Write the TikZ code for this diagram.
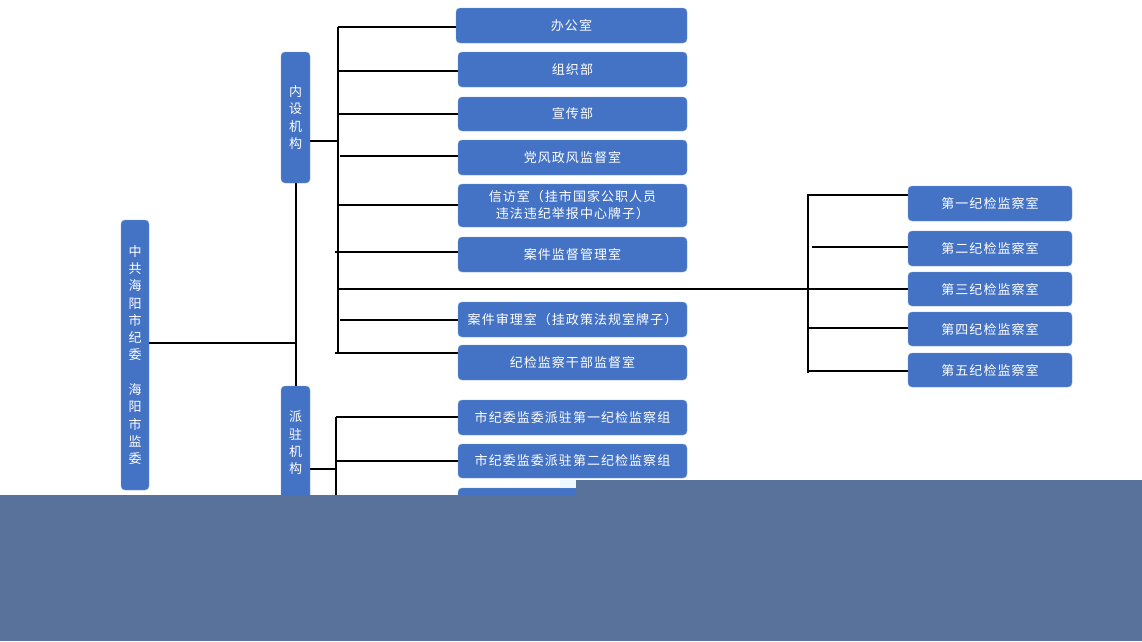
\documentclass[tikz,border=0pt]{standalone}
\usepackage{fontspec}
\newfontfamily\cjk{Noto Sans CJK SC}[LetterSpace=8]
\newfontfamily\cjkv{Noto Sans CJK SC}
\definecolor{boxblue}{RGB}{68,114,196}
\definecolor{boxedge}{RGB}{120,155,215}
\definecolor{slate}{RGB}{88,114,156}
\begin{document}
\begin{tikzpicture}[x=1pt,y=-1pt,
	box/.style={draw=boxedge, fill=boxblue, rounded corners=4pt, text=white, inner sep=0pt, align=center, font=\cjk\fontsize{13}{17}\selectfont},
	vbox/.style={draw=boxedge, fill=boxblue, rounded corners=4pt, text=white, inner sep=0pt, align=center, minimum width=29pt, font=\cjkv\fontsize{13}{17.3}\selectfont},
	link/.style={line width=2pt, black}]
		\useasboundingbox (0,0) rectangle (1142,641);
		%Left column
		\node[vbox, minimum width=28pt, minimum height=270pt] (root) at (135,355) {中\\共\\海\\阳\\市\\纪\\委\\[17.3pt]海\\阳\\市\\监\\委};
		\node[vbox, minimum height=131pt] (nei) at (295.5,117.5) {内\\设\\机\\构};
		\node[vbox, minimum height=114pt] (pai) at (295.5,443) {派\\驻\\机\\构};
		%Inner offices
		\node[box, minimum width=231pt, minimum height=35pt] (o1) at (571.5,25.5) {办公室};
		\node[box, minimum width=229pt, minimum height=35pt] (o2) at (572.5,69.5) {组织部};
		\node[box, minimum width=229pt, minimum height=34pt] (o3) at (572.5,114) {宣传部};
		\node[box, minimum width=229pt, minimum height=35pt] (o4) at (572.5,157.5) {党风政风监督室};
		\node[box, minimum width=229pt, minimum height=43pt] (o5) at (572.5,205.5) {信访室（挂市国家公职人员\\违法违纪举报中心牌子）};
		\node[box, minimum width=229pt, minimum height=35pt] (o6) at (572.5,254.5) {案件监督管理室};
		\node[box, minimum width=229pt, minimum height=35pt] (o7) at (572.5,319.5) {案件审理室（挂政策法规室牌子）};
		\node[box, minimum width=229pt, minimum height=35pt] (o8) at (572.5,362.5) {纪检监察干部监督室};
		%Review offices
		\node[box, minimum width=164pt, minimum height=35pt] (r1) at (990,203.5) {第一纪检监察室};
		\node[box, minimum width=164pt, minimum height=35pt] (r2) at (990,248.5) {第二纪检监察室};
		\node[box, minimum width=164pt, minimum height=34pt] (r3) at (990,289) {第三纪检监察室};
		\node[box, minimum width=164pt, minimum height=34pt] (r4) at (990,329) {第四纪检监察室};
		\node[box, minimum width=164pt, minimum height=34pt] (r5) at (990,370) {第五纪检监察室};
		%Stationed groups
		\node[box, minimum width=229pt, minimum height=35pt] (p1) at (572.5,417.5) {市纪委监委派驻第一纪检监察组};
		\node[box, minimum width=229pt, minimum height=34pt] (p2) at (572.5,461) {市纪委监委派驻第二纪检监察组};
		\node[box, minimum width=229pt, minimum height=35pt] (p3) at (572.5,505.5) {市纪委监委派驻第三纪检监察组};
		%Trunk
		\coordinate (t0) at (296,343);
		\draw[link] (root.east |- t0) -- (t0);
		\draw[link] (nei.south) -- (pai.north);
		%Inner bus
		\coordinate (nb) at (338,141);
		\draw[link] (nei.east |- nb) -- (nb);
		\draw[link] (338,27) -- (338,353);
		\foreach \n/\x/\y in {o1/338/27, o2/338/71, o3/338/114, o4/340/156, o5/338/205, o6/335/252, o7/340/320, o8/335/353}{
			\coordinate (c\n) at (\x,\y);
			\draw[link] (c\n) -- (\n.west |- c\n);
		}
		%Review bus
		\coordinate (m0) at (338,289);
		\draw[link] (m0) -- (r3.west);
		\draw[link] (808,194) -- (808,373);
		\foreach \n/\x/\y in {r1/808/195, r2/812/247, r4/808/328, r5/808/371}{
			\coordinate (c\n) at (\x,\y);
			\draw[link] (c\n) -- (\n.west |- c\n);
		}
		%Stationed bus
		\coordinate (pb) at (336,469);
		\draw[link] (pai.east |- pb) -- (pb);
		\draw[link] (336,417) -- (336,520);
		\foreach \n/\y in {p1/417, p2/461, p3/505}{
			\coordinate (c\n) at (336,\y);
			\draw[link] (c\n) -- (\n.west |- c\n);
		}
		%Cover
		\fill[cyan!8] (560,480) rectangle (576,487);
		\fill[slate] (0,495) rectangle (1142,641);
		\fill[slate] (576,480) rectangle (1142,495);
		\end{tikzpicture}
\end{document}
